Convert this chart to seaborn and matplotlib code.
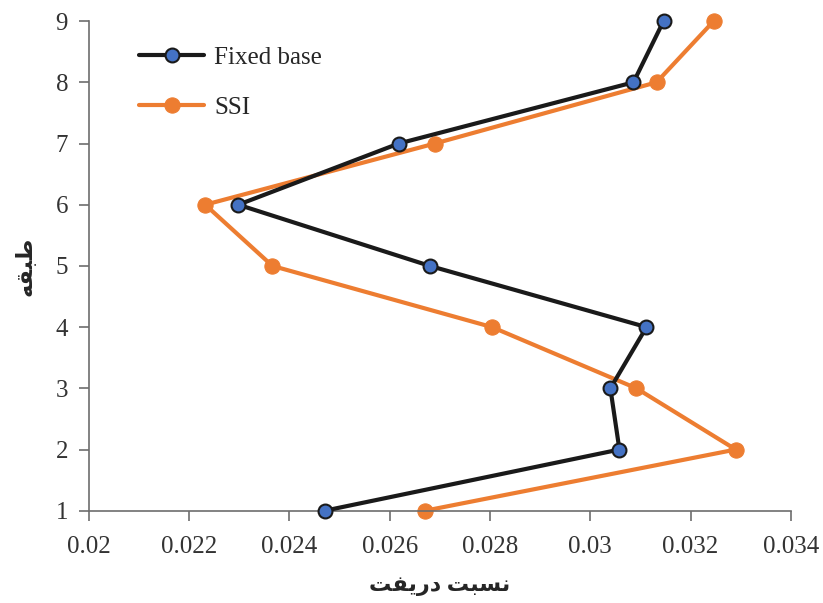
import pandas as pd
import seaborn as sns
import matplotlib.pyplot as plt
import matplotlib.ticker as ticker

# story numbers and drift ratios
stories = [9, 8, 7, 6, 5, 4, 3, 2, 1]
fixed_base = [0.03146, 0.03086, 0.02618, 0.02298, 0.02680, 0.03112, 0.03040, 0.03058, 0.02470]
ssi = [0.03246, 0.03132, 0.02690, 0.02232, 0.02366, 0.02804, 0.03092, 0.03290, 0.02670]
series_names = ['Fixed base', 'SSI']

# Persian labels, written in Arabic presentation forms (visual order) since matplotlib does no shaping
xlabel = '\uFE96\uFED4\uFEF3\uFEAD\uFEA9 \uFE96\uFE92\uFEB4\uFEE7'  # نسبت دریفت
ylabel = '\uFEEA\uFED8\uFE92\uFEC3'  # طبقه

df = pd.concat([
    pd.DataFrame({'story': stories, 'drift': fixed_base, 'model': series_names[0]}),
    pd.DataFrame({'story': stories, 'drift': ssi, 'model': series_names[1]}),
])

sns.set_style('white')
plt.rcParams['font.family'] = ['Liberation Serif', 'DejaVu Sans']

fig = plt.figure(figsize=(8.23, 6.03), dpi=100)
ax = fig.add_axes([0.108, 0.153, 0.853, 0.812])

sns.lineplot(data=df[df.model == 'SSI'], x='drift', y='story', sort=False,
             color='#ED7D31', lw=3, marker='o', ms=11, mec='#ED7D31', mfc='#ED7D31',
             label='SSI', ax=ax, zorder=2, clip_on=False)
sns.lineplot(data=df[df.model == 'Fixed base'], x='drift', y='story', sort=False,
             color='#1a1a1a', lw=3, marker='o', ms=10, mec='#1a1a1a', mew=1.5, mfc='#4472C4',
             label='Fixed base', ax=ax, zorder=3, clip_on=False)

ax.set_xlim(0.02, 0.034)
ax.set_ylim(1, 9)
ax.xaxis.set_major_locator(ticker.MultipleLocator(0.002))
ax.yaxis.set_major_locator(ticker.MultipleLocator(1))
ax.xaxis.set_major_formatter(ticker.FuncFormatter(lambda v, p: ('%.3f' % v).rstrip('0')))

for s in ['top', 'right']:
    ax.spines[s].set_visible(False)
for s in ['left', 'bottom']:
    ax.spines[s].set_color('#6d6d6d')
    ax.spines[s].set_linewidth(1.2)
ax.tick_params(axis='both', direction='out', length=7, width=1.2, color='#6d6d6d',
               labelsize=18, labelcolor='#333333', bottom=True, left=True)
ax.tick_params(axis='x', pad=11)
ax.tick_params(axis='y', pad=8)

ax.set_xlabel(xlabel, fontsize=16, fontweight='bold', labelpad=13)
ax.set_ylabel(ylabel, fontsize=16, fontweight='bold', labelpad=14)

handles, labels = ax.get_legend_handles_labels()
ax.legend(handles[::-1], labels[::-1], loc='upper left', bbox_to_anchor=(0.04, 0.995),
          frameon=False, fontsize=18, labelspacing=1.1, handlelength=2.6, handletextpad=0.4)

plt.savefig('out.png', dpi=100)
